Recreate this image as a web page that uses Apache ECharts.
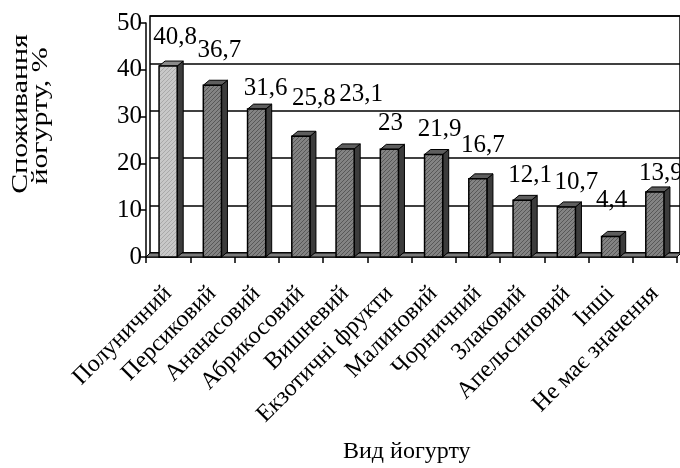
<!DOCTYPE html>
<html><head><meta charset="utf-8">
<script src="https://cdn.jsdelivr.net/npm/echarts@6/dist/echarts.min.js"></script>
<style>html,body{margin:0;padding:0;background:#fff}#c{width:680px;height:468px}</style>
</head><body><div id="c"></div>
<script>
const categories = ['Полуничний','Персиковий','Ананасовий','Абрикосовий','Вишневий','Екзотичні фрукти','Малиновий','Чорничний','Злаковий','Апельсиновий','Інші','Не має значення'];
const values = [40.8, 36.7, 31.6, 25.8, 23.1, 23, 21.9, 16.7, 12.1, 10.7, 4.4, 13.9];
const valueLabels = ['40,8','36,7','31,6','25,8','23,1','23','21,9','16,7','12,1','10,7','4,4','13,9'];
const yTicks = { min: 0, max: 50, interval: 10 };
// label layout offsets (dx, dy relative to bar top centre), presentation only
const labelDX = [7, 7, 9, 13, 16, 1, 6, 5, 8, 10, 1, 6];
const labelDY = [-29, -35, -21, -38, -54, -26, -25, -33, -25, -24, -36, -19];

function hatch(bg, fg) {
  const c = document.createElement('canvas');
  c.width = 4; c.height = 4;
  const g = c.getContext('2d');
  g.fillStyle = bg; g.fillRect(0, 0, 4, 4);
  g.fillStyle = fg;
  for (let k = 0; k < 4; k++) { g.fillRect((3 - k + 4) % 4, k, 1, 1); }
  return { image: c, repeat: 'repeat' };
}
const darkFill = hatch('#838383', '#575757');
const lightFill = hatch('#c8c8c8', '#a9a9a9');
const FONT = '"Liberation Serif", "Times New Roman", serif';

const chart = echarts.init(document.getElementById('c'), null, { renderer: 'canvas' });
chart.setOption({
  animation: false,
  backgroundColor: '#fff',
  grid: [
    { left: 146, right: 3, top: 23, bottom: 211, containLabel: false },
    { left: 150, right: 0, top: 16, bottom: 215, show: true, borderColor: '#000', borderWidth: 1.5, backgroundColor: 'transparent', z: 0 }
  ],
  xAxis: [
    { type: 'category', data: categories, gridIndex: 0,
      axisLine: { lineStyle: { color: '#000', width: 1.5 } },
      axisTick: { show: true, length: 6, lineStyle: { color: '#000', width: 1.5 } },
      axisLabel: { rotate: 45, margin: 33, color: '#000', fontFamily: FONT, fontSize: 24, interval: 0 } },
    { type: 'category', data: categories, gridIndex: 1, show: false }
  ],
  yAxis: [
    { type: 'value', gridIndex: 0, min: yTicks.min, max: yTicks.max, interval: yTicks.interval,
      axisLine: { show: true, lineStyle: { color: '#000', width: 1.5 } },
      axisTick: { show: true, length: 6, lineStyle: { color: '#000', width: 1.5 } },
      splitLine: { show: false },
      axisLabel: { color: '#000', fontFamily: FONT, fontSize: 25, margin: 4 } },
    { type: 'value', gridIndex: 1, min: yTicks.min, max: yTicks.max, interval: yTicks.interval,
      axisLine: { show: false }, axisTick: { show: false }, axisLabel: { show: false },
      splitLine: { show: true, lineStyle: { color: '#000', width: 1.5 } } }
  ],
  graphic: [
    { type: 'text', left: 343, top: 440, style: { text: 'Вид йогурту', font: '24px ' + FONT, fill: '#000' } },
    { type: 'text', x: 21, y: 114, rotation: Math.PI / 2, scaleX: 1.3,
      style: { text: 'Споживання', font: '23px ' + FONT, fill: '#000', align: 'center', verticalAlign: 'middle' } },
    { type: 'text', x: 41, y: 116, rotation: Math.PI / 2, scaleX: 1.3,
      style: { text: 'йогурту, %', font: '23px ' + FONT, fill: '#000', align: 'center', verticalAlign: 'middle' } }
  ],
  series: [
    { type: 'custom', xAxisIndex: 0, yAxisIndex: 0, z: 5,
      data: values.map((v, i) => [i, v]),
      renderItem: function (params, api) {
        const i = api.value(0), v = api.value(1);
        const top = api.coord([i, v]);
        const base = api.coord([i, 0]);
        const bw = api.size([1, 0])[0];
        const children = [];
        const dx = 6, dy = 5;
        if (params.dataIndex === 0) {
          const L = base[0] - bw / 2, R = api.coord([categories.length - 1, 0])[0] + bw / 2;
          children.push({ type: 'polygon', shape: { points: [[L, base[1]], [R, base[1]], [R + 4, base[1] - 4], [L + 4, base[1] - 4]] },
            style: { fill: '#7a7a7a', stroke: '#000', lineWidth: 1 } });
        }
        const w = bw * 0.41;
        const x0 = top[0] - w / 2, x1 = top[0] + w / 2;
        const fill = i === 0 ? lightFill : darkFill;
        children.push({ type: 'polygon', shape: { points: [[x1, top[1]], [x1 + dx, top[1] - dy], [x1 + dx, base[1] - dy], [x1, base[1]]] },
          style: { fill: '#3c3c3c', stroke: '#000', lineWidth: 1 } });
        children.push({ type: 'polygon', shape: { points: [[x0, top[1]], [x0 + dx, top[1] - dy], [x1 + dx, top[1] - dy], [x1, top[1]]] },
          style: { fill: i === 0 ? '#8a8a8a' : '#5e5e5e', stroke: '#000', lineWidth: 1 } });
        children.push({ type: 'rect', shape: { x: x0, y: top[1], width: w, height: base[1] - top[1] },
          style: { fill: fill, stroke: '#000', lineWidth: 1.5 } });
        children.push({ type: 'text', x: top[0] + labelDX[i], y: top[1] + labelDY[i],
          style: { text: valueLabels[i], font: '25px ' + FONT, fill: '#000', align: 'center', verticalAlign: 'middle' } });
        return { type: 'group', children: children };
      }
    }
  ]
});
</script></body></html>
